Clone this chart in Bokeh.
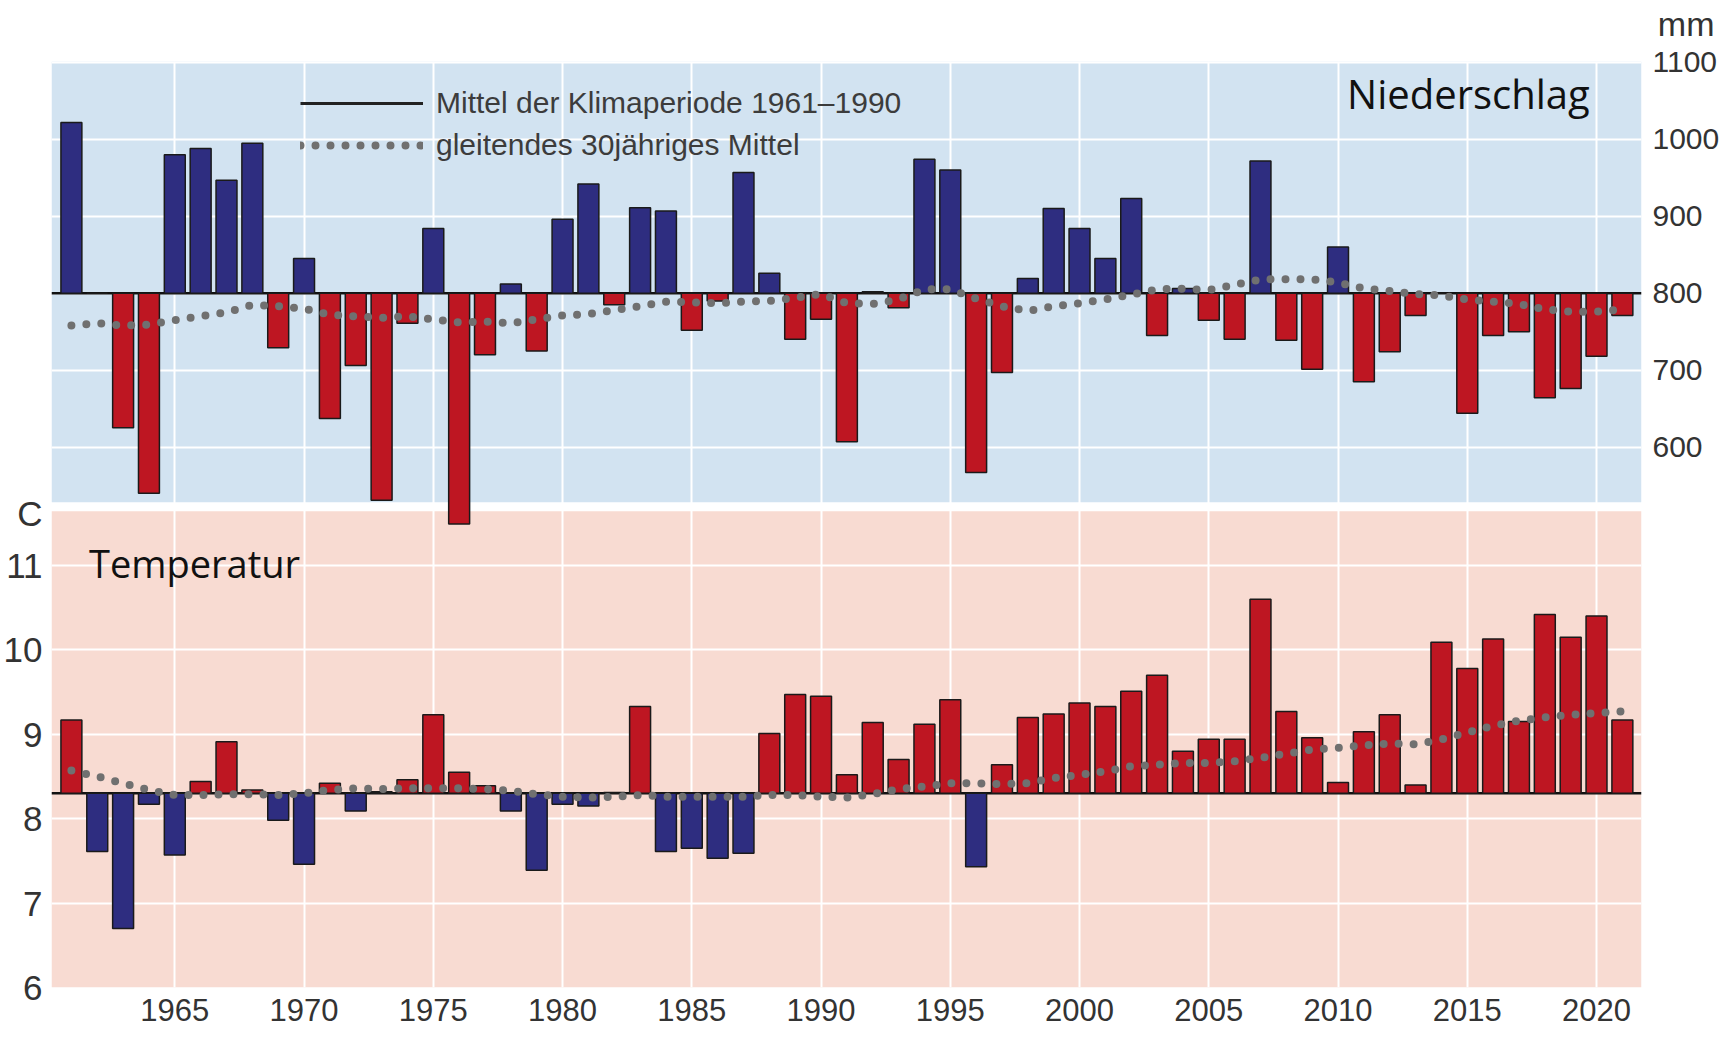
from bokeh.plotting import figure
from bokeh.models import (Range1d, LinearAxis, FixedTicker, Grid, BoxAnnotation, Span,
                          Label, Legend, LegendItem, ColumnDataSource, Title)
from bokeh.embed import file_html
from bokeh.resources import INLINE

# ---------------- data ----------------
years = list(range(1961, 2022))

precip = [1022, 800, 625, 540, 980, 988, 947, 995, 729, 845,
          637, 706, 531, 761, 884, 500, 720, 812, 725, 896,
          942, 785, 911, 907, 752, 790, 957, 826, 740, 766,
          607, 802, 781, 974, 960, 567, 697, 819, 910, 884,
          845, 923, 745, 806, 765, 740, 972, 739, 701, 860,
          685, 724, 771, 800, 644, 745, 750, 664, 676, 718,
          771]

precip_ma = [758, 761, 758, 759, 765, 770, 775, 785, 783, 780,
             772, 770, 768, 770, 766, 762, 763, 761, 766, 771,
             773, 778, 783, 789, 788, 787, 789, 790, 794, 799,
             787, 786, 792, 805, 805, 793, 783, 777, 783, 787,
             792, 798, 805, 806, 804, 811, 818, 818, 818, 814,
             806, 803, 799, 797, 792, 789, 786, 779, 776, 776,
             779]

temp = [9.17, 7.61, 6.70, 8.17, 7.57, 8.44, 8.91, 8.34, 7.98, 7.46,
        8.42, 8.09, 8.32, 8.46, 9.23, 8.55, 8.39, 8.09, 7.39, 8.17,
        8.15, 8.31, 9.33, 7.61, 7.65, 7.53, 7.59, 9.01, 9.47, 9.45,
        8.52, 9.14, 8.70, 9.12, 9.41, 7.43, 8.64, 9.20, 9.24, 9.37,
        9.33, 9.51, 9.70, 8.80, 8.94, 8.94, 10.60, 9.27, 8.96, 8.43,
        9.03, 9.23, 8.40, 10.09, 9.78, 10.13, 9.15, 10.42, 10.15, 10.40,
        9.17]

temp_ma = [8.57, 8.50, 8.42, 8.34, 8.28, 8.28, 8.29, 8.29, 8.28, 8.30,
           8.34, 8.36, 8.35, 8.36, 8.36, 8.36, 8.35, 8.33, 8.29, 8.26,
           8.25, 8.26, 8.28, 8.26, 8.26, 8.26, 8.26, 8.28, 8.28, 8.26,
           8.25, 8.29, 8.35, 8.38, 8.42, 8.42, 8.41, 8.42, 8.48, 8.52,
           8.56, 8.62, 8.64, 8.66, 8.66, 8.68, 8.72, 8.77, 8.82, 8.84,
           8.87, 8.89, 8.88, 8.94, 9.02, 9.10, 9.16, 9.20, 9.23, 9.25,
           9.27]

PRECIP_MEAN = 800      # mm, 1961-1990
TEMP_MEAN = 8.3        # degC, 1961-1990

year_ticks = [1965, 1970, 1975, 1980, 1985, 1990, 1995, 2000, 2005, 2010, 2015, 2020]
precip_ticks = [600, 700, 800, 900, 1000, 1100]
temp_ticks = [6, 7, 8, 9, 10, 11]
temp_unit = "C"
precip_unit = "mm"

legend_mean_label = "Mittel der Klimaperiode 1961–1990"
legend_ma_label = "gleitendes 30jähriges Mittel"

# ---------------- style ----------------
BLUE = "#2E2D80"
RED = "#BE1622"
BG_BLUE = "#D2E3F1"
BG_PINK = "#F8DBD2"
DOT = "#707070"
NARROW = "Liberation Sans"
TICK_COLOR = "#333333"
UNIT_POS = 11.614      # where the unit sits on the temperature scale

p = figure(frame_width=1590, frame_height=926,
           x_range=Range1d(1960.23, 2021.74),
           y_range=Range1d(6.0, 16.97),
           output_backend="svg", toolbar_location=None,
           min_border_left=45, min_border_top=61, min_border_right=72, min_border_bottom=41)
p.extra_y_ranges = {"precip": Range1d(-102.5, 1101.2)}
p.outline_line_color = None
p.background_fill_color = "white"
p.border_fill_color = "white"

# panel backgrounds
p.add_layout(BoxAnnotation(bottom=528.2, y_range_name="precip", fill_color=BG_BLUE,
                           fill_alpha=1, line_alpha=0, level="image"))
p.add_layout(BoxAnnotation(top=11.643, fill_color=BG_PINK,
                           fill_alpha=1, line_alpha=0, level="image"))

# grids
p.xgrid.ticker = FixedTicker(ticks=year_ticks)
p.ygrid.ticker = FixedTicker(ticks=temp_ticks)
for g in (p.xgrid[0], p.ygrid[0]):
    g.grid_line_color = "white"
    g.grid_line_width = 2
    g.grid_line_alpha = 1
pg = Grid(dimension=1, ticker=FixedTicker(ticks=precip_ticks), y_range_name="precip",
          grid_line_color="white", grid_line_width=2)
p.add_layout(pg)

# baselines
p.add_layout(Span(location=PRECIP_MEAN, dimension="width", y_range_name="precip",
                  line_color="#111111", line_width=2.5, level="underlay"))
p.add_layout(Span(location=TEMP_MEAN, dimension="width",
                  line_color="#111111", line_width=2.5, level="underlay"))

# bars
src_p = ColumnDataSource(dict(
    year=years, top=precip,
    color=[BLUE if v > PRECIP_MEAN else RED for v in precip]))
p.vbar(x="year", top="top", bottom=PRECIP_MEAN, width=0.81, source=src_p,
       fill_color="color", line_color="#1a1a1a", line_width=1.5, y_range_name="precip")

src_t = ColumnDataSource(dict(
    year=years, top=temp,
    color=[RED if v > TEMP_MEAN else BLUE for v in temp]))
p.vbar(x="year", top="top", bottom=TEMP_MEAN, width=0.81, source=src_t,
       fill_color="color", line_color="#1a1a1a", line_width=1.5)

# moving averages
r_ma_p = p.line(years, precip_ma, y_range_name="precip", line_color=DOT, line_width=8,
                line_dash="0 15", line_cap="round")
p.line(years, temp_ma, line_color=DOT, line_width=8, line_dash="0 15", line_cap="round")

# legend-only sample for the mean line
r_mean = p.line(years, [PRECIP_MEAN] * len(years), y_range_name="precip",
                line_color="#222222", line_width=3, visible=False)

legend = Legend(items=[LegendItem(label=legend_mean_label, renderers=[r_mean]),
                       LegendItem(label=legend_ma_label, renderers=[r_ma_p])],
                location=(249, 821.8), glyph_width=123, glyph_height=40, label_height=40,
                spacing=2, padding=0, margin=0, label_standoff=13,
                background_fill_alpha=0, border_line_alpha=0,
                label_text_font=NARROW, label_text_font_size="30px",
                label_text_color="#3c3c3c")
p.add_layout(legend)

# axes
def style_axis(ax, standoff, size):
    ax.axis_line_color = None
    ax.major_tick_line_color = None
    ax.minor_tick_line_color = None
    ax.major_label_text_font = NARROW
    ax.major_label_text_font_size = size
    ax.major_label_text_color = TICK_COLOR
    ax.major_label_standoff = standoff

p.xaxis.ticker = FixedTicker(ticks=year_ticks)
style_axis(p.xaxis[0], 5, "31px")
p.yaxis.ticker = FixedTicker(ticks=temp_ticks + [UNIT_POS])
p.yaxis.major_label_overrides = {UNIT_POS: temp_unit}
style_axis(p.yaxis[0], 3, "35px")

ax_r = LinearAxis(y_range_name="precip", ticker=FixedTicker(ticks=precip_ticks))
style_axis(ax_r, 5, "30px")
p.add_layout(ax_r, "right")

# unit above the right axis (a blank spacer keeps it clear of the frame)
p.add_layout(Title(text=" ", standoff=0, text_font=NARROW, text_font_size="15px"), "above")
p.add_layout(Title(text=precip_unit, align="right", offset=-73, vertical_align="bottom",
                   standoff=0, text_font=NARROW, text_font_size="34px",
                   text_font_style="normal", text_color=TICK_COLOR), "above")

# panel titles
p.add_layout(Label(x=2019.74, y=1059, y_range_name="precip", text="Niederschlag",
                   text_align="right", text_baseline="middle",
                   text_font="Open Sans", text_font_size="40px", text_color="#111111"))
p.add_layout(Label(x=1961.68, y=11.03, text="Temperatur",
                   text_align="left", text_baseline="middle",
                   text_font="Open Sans", text_font_size="38px", text_color="#111111"))

open("out.html", "w").write(file_html(p, INLINE, title="Niederschlag und Temperatur"))
